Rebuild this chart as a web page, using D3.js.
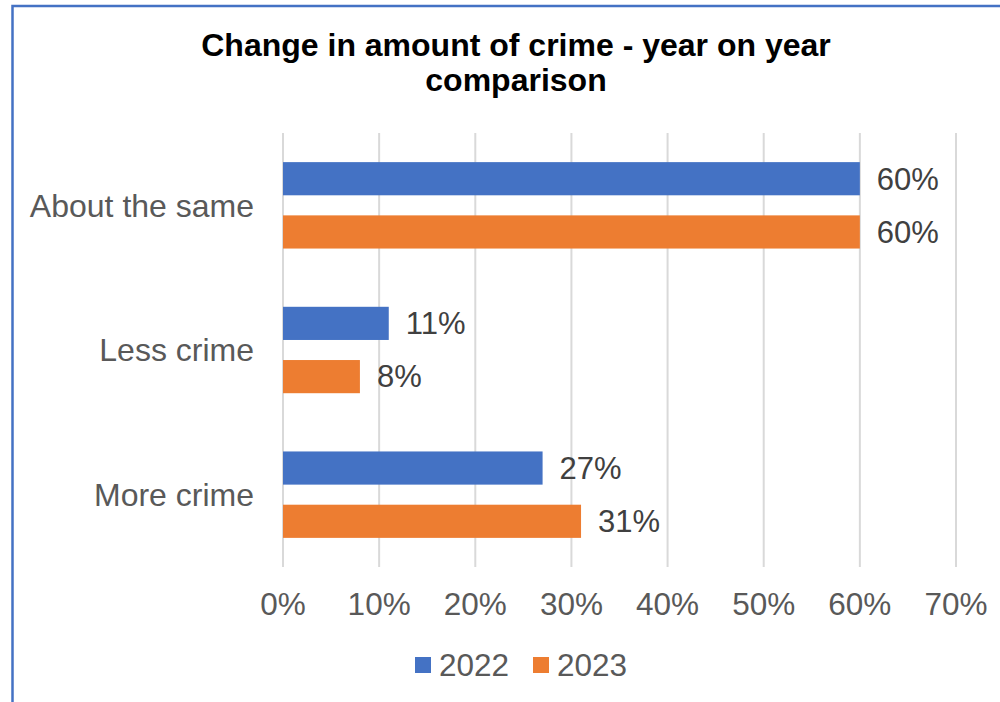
<!DOCTYPE html>
<html>
<head>
<meta charset="utf-8">
<script src="https://cdn.jsdelivr.net/npm/d3@7"></script>
<style>
  html, body { margin: 0; padding: 0; background: #fff; }
  svg { display: block; }
  text { font-family: "Liberation Sans", Arial, sans-serif; }
</style>
</head>
<body>
<svg id="chart" width="1000" height="702"></svg>
<script>
// Survey responses: perceived change in the amount of crime
const categories = ["About the same", "Less crime", "More crime"];
const seriesNames = ["2022", "2023"];
const values2022 = [60, 11, 27];
const values2023 = [60, 8, 31];
const xTicks = [0, 10, 20, 30, 40, 50, 60, 70];
const titleLines = ["Change in amount of crime - year on year", "comparison"];
const colors = ["#4472C4", "#ED7D31"];

const svg = d3.select("#chart");

// chart frame
svg.append("rect")
  .attr("x", 12.5).attr("y", 6)
  .attr("width", 1100).attr("height", 800)
  .attr("fill", "#fff")
  .attr("stroke", "#4472C4")
  .attr("stroke-width", 2.5);

// title
svg.append("text")
  .attr("text-anchor", "middle")
  .attr("font-weight", "bold")
  .attr("font-size", 32)
  .attr("fill", "#000")
  .selectAll("tspan")
  .data(titleLines)
  .join("tspan")
  .attr("x", 516)
  .attr("y", (d, i) => 56 + i * 35)
  .text(d => d);

const x = d3.scaleLinear().domain([0, 70]).range([283, 956]);
const y = d3.scaleBand().domain(categories).range([133, 567]);
const ySeries = d3.scaleBand().domain(seriesNames)
  .range([0, y.bandwidth()])
  .paddingInner(0.377)
  .paddingOuter(0.547);

// vertical gridlines
svg.append("g")
  .selectAll("line")
  .data(xTicks)
  .join("line")
  .attr("x1", d => x(d)).attr("x2", d => x(d))
  .attr("y1", y.range()[0]).attr("y2", y.range()[1])
  .attr("stroke", "#d9d9d9")
  .attr("stroke-width", 2);

// x tick labels
svg.append("g")
  .selectAll("text")
  .data(xTicks)
  .join("text")
  .attr("x", d => x(d))
  .attr("y", 615)
  .attr("text-anchor", "middle")
  .attr("font-size", 31.5)
  .attr("fill", "#595959")
  .text(d => d + "%");

// category labels
svg.append("g")
  .selectAll("text")
  .data(categories)
  .join("text")
  .attr("x", 254)
  .attr("y", d => y(d) + y.bandwidth() / 2)
  .attr("dy", "0.35em")
  .attr("text-anchor", "end")
  .attr("font-size", 32)
  .attr("fill", "#595959")
  .text(d => d);

const rows = [];
categories.forEach((c, i) => {
  rows.push({ cat: c, series: "2022", value: values2022[i], color: colors[0] });
  rows.push({ cat: c, series: "2023", value: values2023[i], color: colors[1] });
});

// bars
svg.append("g")
  .selectAll("rect")
  .data(rows)
  .join("rect")
  .attr("x", x(0))
  .attr("y", d => y(d.cat) + ySeries(d.series))
  .attr("width", d => x(d.value) - x(0))
  .attr("height", ySeries.bandwidth())
  .attr("fill", d => d.color);

// value labels
svg.append("g")
  .selectAll("text")
  .data(rows)
  .join("text")
  .attr("x", d => x(d.value) + 17)
  .attr("y", d => y(d.cat) + ySeries(d.series) + ySeries.bandwidth() / 2)
  .attr("dy", "0.35em")
  .attr("font-size", 31)
  .attr("fill", "#404040")
  .text(d => d.value + "%");

// legend
const legendItems = [
  { name: seriesNames[0], color: colors[0], x: 415 },
  { name: seriesNames[1], color: colors[1], x: 533 }
];
const legend = svg.append("g");
legend.selectAll("rect")
  .data(legendItems)
  .join("rect")
  .attr("x", d => d.x).attr("y", 657)
  .attr("width", 16).attr("height", 16)
  .attr("fill", d => d.color);
legend.selectAll("text")
  .data(legendItems)
  .join("text")
  .attr("x", d => d.x + 24)
  .attr("y", 676)
  .attr("font-size", 31.5)
  .attr("fill", "#595959")
  .text(d => d.name);
</script>
</body>
</html>
